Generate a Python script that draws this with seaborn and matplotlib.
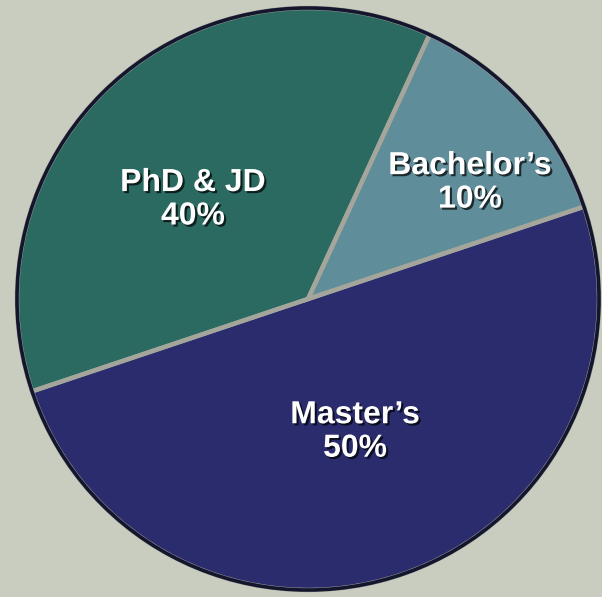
import matplotlib
matplotlib.use('Agg')
import matplotlib.pyplot as plt
import matplotlib.patheffects as pe
from matplotlib.patches import Circle
import seaborn as sns

# Degree shares (labels show the printed percentages, wedges follow the drawn sizes)
degrees = ["Bachelor’s", 'PhD & JD', "Master’s"]
printed_pct = [10, 40, 50]
drawn_share = [13, 37, 50]
slice_colors = ['#5f8d99', '#2a6a61', '#2b2c6d']

sns.set_theme(style='white')
plt.rcParams['font.family'] = ['Liberation Sans', 'DejaVu Sans']

bg = '#c9cdc0'
fig = plt.figure(figsize=(6.02, 5.97), dpi=100, facecolor=bg)
ax = fig.add_axes([0, 0, 1, 1])
ax.set_facecolor(bg)

# filled wedges
ax.pie(drawn_share, colors=slice_colors, startangle=18.5, counterclock=True,
       wedgeprops=dict(linewidth=0))
# light separators between slices
ax.pie(drawn_share, colors=slice_colors, startangle=18.5, counterclock=True,
       wedgeprops=dict(fill=False, edgecolor='#a4a59b', linewidth=3.2))
# dark outer rim
ax.add_patch(Circle((0, 0), 1.0, fill=False, edgecolor='#14162e', linewidth=2.6))

# centre of pie at pixel (308, 299), radius 291 px
cx, cy, r_px = 308, 299, 291
ax.set_xlim(-cx / r_px, (602 - cx) / r_px)
ax.set_ylim(-(597 - cy) / r_px, cy / r_px)
ax.set_aspect('auto')
ax.axis('off')

label_pos = [(0.557, 0.399), (-0.395, 0.341), (0.162, -0.457)]
shadow = [pe.withSimplePatchShadow(offset=(1.5, -1.5), shadow_rgbFace='black', alpha=0.7)]
for name, pct, (x, y) in zip(degrees, printed_pct, label_pos):
    ax.text(x, y, f'{name}\n{pct}%', ha='center', va='center', color='white',
            fontsize=23, fontweight='bold', linespacing=1.15, path_effects=shadow)

fig.savefig('out.png', dpi=100, facecolor=bg)
